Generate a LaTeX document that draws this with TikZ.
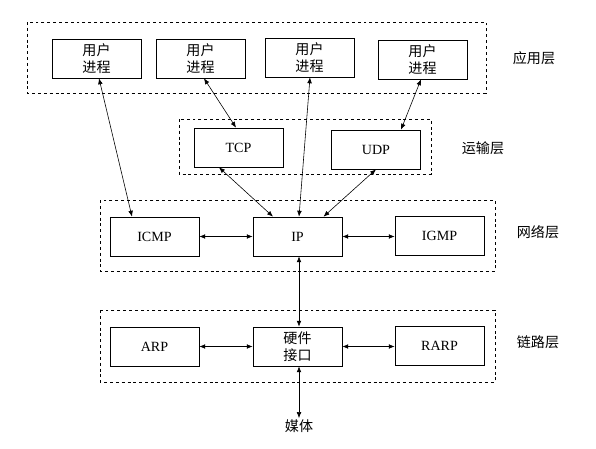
\documentclass[tikz,border=0pt]{standalone}
\usepackage{fontspec}
\setmainfont{Liberation Serif}
\newfontfamily\cjk{Noto Sans CJK SC}
\usepackage{tikz}
\usetikzlibrary{calc}
\usetikzlibrary{arrows.meta}
\tikzstyle{proc} = [draw, line width=0.6pt, minimum width=2.67cm, minimum height=1.17cm, inner sep=0pt, align=center, font=\fontsize{12}{14.5}\selectfont]
\tikzstyle{layer} = [draw, line width=0.5pt, dash pattern=on 2.5pt off 2.5pt]
\tikzstyle{link} = [{Latex[length=5pt,width=4pt]}-{Latex[length=5pt,width=4pt]}, line width=0.5pt]
\tikzstyle{tag} = [font=\cjk\fontsize{12}{14}\selectfont]

\begin{document}
\begin{tikzpicture}[x=0.03cm,y=-0.03cm]
\useasboundingbox (0,0) rectangle (596,448);

% layers
\draw[layer] (27,22) rectangle (486,93);
\draw[layer] (179,119) rectangle (431,174);
\draw[layer] (100,200) rectangle (495,271);
\draw[layer] (100,310) rectangle (495,382);

\node[tag] (app) at (534,58) {应用层};
\node[tag] (trans) at (483,148) {运输层};
\node[tag] (net) at (538,232) {网络层};
\node[tag] (lnk) at (538,342) {链路层};

% boxes
\node[proc] (u1) at (96.5,58.5) {{\cjk 用户}\\{\cjk 进程}};
\node[proc] (u2) at (200.5,58.5) {{\cjk 用户}\\{\cjk 进程}};
\node[proc] (u3) at (309.5,57.5) {{\cjk 用户}\\{\cjk 进程}};
\node[proc] (u4) at (422.5,59.5) {{\cjk 用户}\\{\cjk 进程}};

\node[proc] (tcp) at (238.5,147.5) {TCP};
\node[proc] (udp) at (376,149.5) {UDP};

\node[proc] (icmp) at (154.5,236.5) {ICMP};
\node[proc] (ip) at (297.5,236.5) {IP};
\node[proc] (igmp) at (439.5,235.5) {IGMP};

\node[proc] (arp) at (154.5,346.5) {ARP};
\node[proc] (hw) at (297.5,346.5) {{\cjk 硬件}\\{\cjk 接口}};
\node[proc] (rarp) at (439.5,345.5) {RARP};

\node[tag, inner sep=1pt, anchor=north] (media) at (299,418) {媒体};

% arrows
\draw[link] ($(u1.south)+(2.5,0)$) -- ($(icmp.north)+(-22.5,0)$);
\draw[link] ($(u2.south)+(3.5,0)$) -- ($(tcp.north)+(-2.5,0)$);
\draw[link] ($(u3.south)+(0.5,0)$) -- ($(ip.north)+(1.5,0)$);
\draw[link] ($(u4.south)+(-1.5,0)$) -- ($(udp.north)+(25,0)$);
\draw[link] ($(tcp.south)+(-19.5,0)$) -- ($(ip.north)+(-24.5,0)$);
\draw[link] (udp.south) -- ($(ip.north)+(26,0)$);

\draw[link] (icmp.east) -- (ip.west);
\draw[link] (ip.east) -- (ip.east -| igmp.west);
\draw[link] ($(ip.south)+(1.5,0)$) -- ($(hw.north)+(1.5,0)$);
\draw[link] (arp.east) -- (hw.west);
\draw[link] (hw.east) -- (hw.east -| rarp.west);
\draw[link] ($(hw.south)+(1.5,0)$) -- (media.north -| {$(hw.south)+(1.5,0)$});
\end{tikzpicture}
\end{document}
